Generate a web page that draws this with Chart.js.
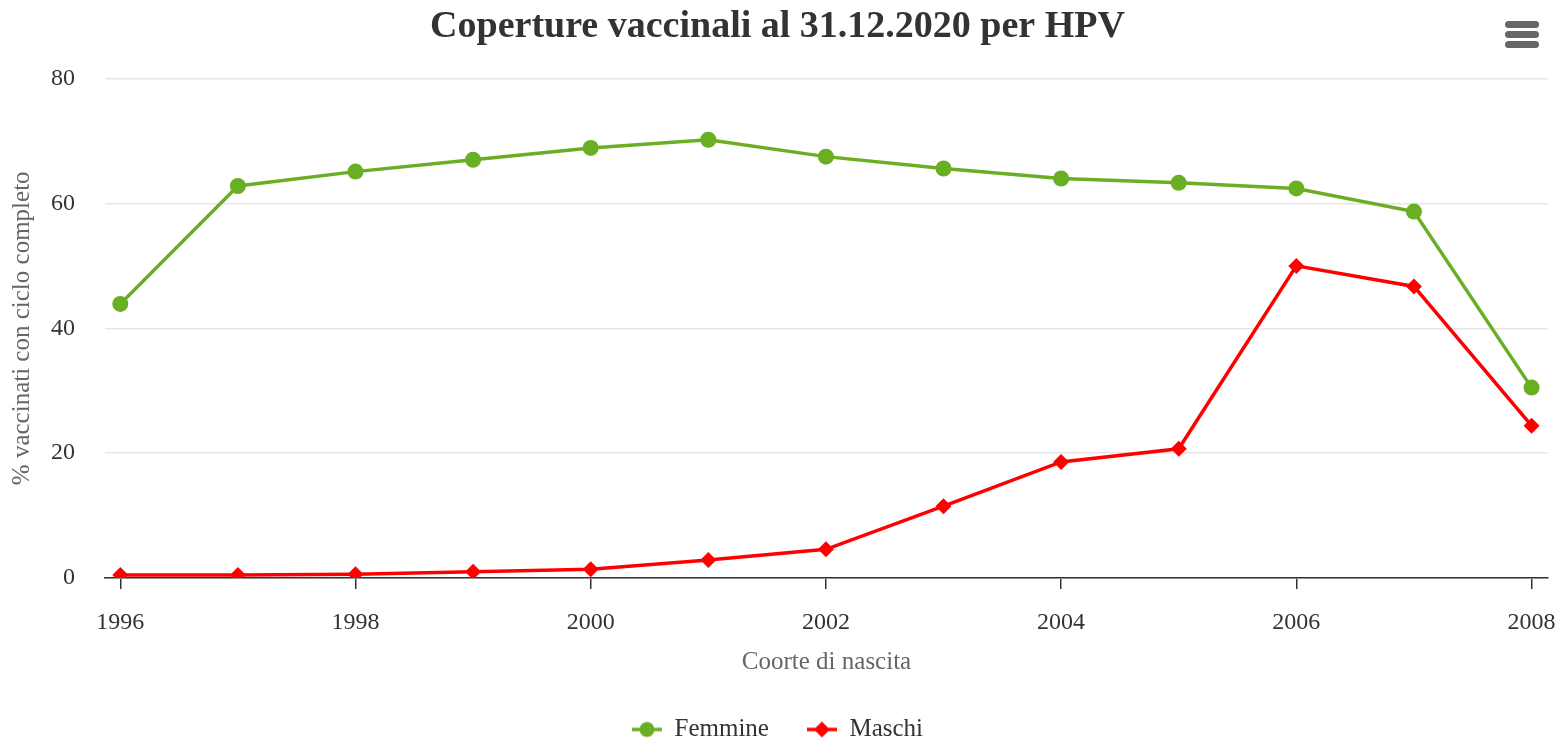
<!DOCTYPE html>
<html>
<head>
<meta charset="utf-8">
<script src="https://cdn.jsdelivr.net/npm/chart.js@4/dist/chart.umd.min.js"></script>
<style>
  html, body { margin: 0; padding: 0; background: #fff; }
  #wrap { width: 1559px; height: 741px; position: relative; }
</style>
</head>
<body>
<div id="wrap"><canvas id="grafico"></canvas></div>
<script>
// coorti di nascita e coperture (%)
const coorti = [1996, 1997, 1998, 1999, 2000, 2001, 2002, 2003, 2004, 2005, 2006, 2007, 2008];
const femmine = [43.9, 62.8, 65.1, 67.0, 68.9, 70.2, 67.5, 65.6, 64.0, 63.3, 62.4, 58.7, 30.5];
const maschi = [0.5, 0.5, 0.6, 1.0, 1.4, 2.9, 4.6, 11.5, 18.6, 20.7, 50.0, 46.7, 24.4];
const tickAnni = [1996, 1998, 2000, 2002, 2004, 2006, 2008];
const tickValori = [0, 20, 40, 60, 80];

const VERDE = '#6aaf23';
const ROSSO = '#ff0000';
const FONT = '"Liberation Serif", "Times New Roman", serif';

// simbolo della legenda: linea con marcatore
function simbolo(colore, forma) {
    const c = document.createElement('canvas');
    c.width = 30; c.height = 18;
    const g = c.getContext('2d');
    g.strokeStyle = colore;
    g.lineWidth = 3.5;
    g.beginPath(); g.moveTo(0, 9); g.lineTo(30, 9); g.stroke();
    g.fillStyle = colore;
    g.beginPath();
    if (forma === 'cerchio') {
        g.arc(15, 9, 7.5, 0, Math.PI * 2);
    } else {
        g.moveTo(15, 1); g.lineTo(23, 9); g.lineTo(15, 17); g.lineTo(7, 9); g.closePath();
    }
    g.fill();
    return c;
}

// icona del menu in alto a destra
const menuIcona = {
    id: 'menuIcona',
    afterDraw(chart) {
        const ctx = chart.ctx;
        ctx.save();
        ctx.fillStyle = '#666';
        [24, 34, 44].forEach(y => {
            ctx.beginPath();
            ctx.roundRect(1505, y - 3, 34, 7, 3.5);
            ctx.fill();
        });
        ctx.restore();
    }
};

const ctx = document.getElementById('grafico').getContext('2d');
new Chart(ctx, {
    type: 'line',
    data: {
        datasets: [{
            label: 'Femmine',
            data: coorti.map((a, i) => ({ x: a, y: femmine[i] })),
            borderColor: VERDE,
            backgroundColor: VERDE,
            borderWidth: 3.5,
            pointStyle: 'circle',
            pointRadius: 8,
            pointHoverRadius: 9,
            pointBorderWidth: 0
        }, {
            label: 'Maschi',
            data: coorti.map((a, i) => ({ x: a, y: maschi[i] })),
            borderColor: ROSSO,
            backgroundColor: ROSSO,
            borderWidth: 3.5,
            pointStyle: 'rectRot',
            pointRadius: 8,
            pointHoverRadius: 9,
            pointBorderWidth: 0
        }]
    },
    options: {
        responsive: true,
        maintainAspectRatio: false,
        animation: false,
        layout: { padding: { left: 7, right: 11, top: 0, bottom: -11 } },
        plugins: {
            title: {
                display: true,
                text: 'Coperture vaccinali al 31.12.2020 per HPV',
                color: '#333',
                font: { family: FONT, size: 38, weight: 'bold' },
                padding: { top: 4, bottom: 29 }
            },
            legend: {
                position: 'bottom',
                labels: {
                    usePointStyle: true,
                    pointStyleWidth: 30,
                    color: '#333',
                    font: { family: FONT, size: 25 },
                    padding: 38,
                    generateLabels: chart => chart.data.datasets.map((d, i) => ({
                        text: d.label,
                        pointStyle: simbolo(d.borderColor, i === 0 ? 'cerchio' : 'rombo'),
                        fontColor: '#333',
                        lineWidth: 0,
                        datasetIndex: i
                    }))
                }
            },
            tooltip: { enabled: true }
        },
        scales: {
            x: {
                type: 'linear',
                min: 1995.87,
                max: 2008.14,
                afterBuildTicks: scale => { scale.ticks = tickAnni.map(v => ({ value: v })); },
                ticks: {
                    callback: v => String(v),
                    color: '#333',
                    font: { family: FONT, size: 24, lineHeight: '68px' },
                    padding: 0,
                    maxRotation: 0
                },
                grid: { drawOnChartArea: false, drawTicks: true, tickLength: 11, color: '#333', lineWidth: 1.5 },
                border: { display: true, color: '#333', width: 1.5 },
                title: {
                    display: true,
                    text: 'Coorte di nascita',
                    color: '#666',
                    font: { family: FONT, size: 25, lineHeight: '10px' },
                    padding: { top: 0, bottom: 12 }
                }
            },
            y: {
                min: 0,
                max: 80,
                afterBuildTicks: scale => { scale.ticks = tickValori.map(v => ({ value: v })); },
                ticks: {
                    color: '#333',
                    font: { family: FONT, size: 24 },
                    padding: 2
                },
                grid: { drawTicks: true, tickLength: 28, tickColor: 'rgba(0,0,0,0)', color: '#e6e6e6', lineWidth: 1.5 },
                border: { display: false },
                title: {
                    display: true,
                    text: '% vaccinati con ciclo completo',
                    color: '#666',
                    font: { family: FONT, size: 25 },
                    padding: { top: 0, bottom: 12 }
                }
            }
        }
    },
    plugins: [menuIcona]
});
</script>
</body>
</html>
